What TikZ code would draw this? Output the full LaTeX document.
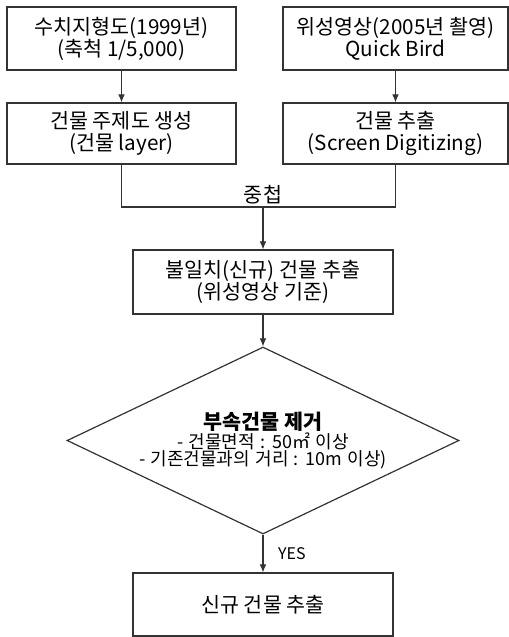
\documentclass[tikz,border=0pt]{standalone}
\usepackage{fontspec}
\setmainfont{Noto Sans CJK KR}
\usetikzlibrary{shapes.geometric,arrows.meta}
\begin{document}
\begin{tikzpicture}[x=0.75pt,y=-0.75pt,
  box/.style={draw=black!80,line width=0.9pt,fill=white,inner sep=0pt,align=center,
    font=\fontsize{15.5}{16.5}\selectfont},
  link/.style={draw=black!80,line width=0.8pt},
  arr/.style={link,-{Latex[length=6pt,width=5pt]}},
  lbl/.style={font=\fontsize{15.5}{16.5}\selectfont,inner sep=0pt}]
\useasboundingbox (0,0) rectangle (509,637);
\node[box,minimum width=171.75pt,minimum height=47.25pt] (b1) at (121.5,38.5)
  {수치지형도(1999년)\\(축척 1/5,000)};
\node[box,minimum width=168.75pt,minimum height=47.25pt] (b2) at (395.5,38.5)
  {위성영상(2005년 촬영)\\Quick Bird};
\node[box,minimum width=171.75pt,minimum height=45.75pt] (b3) at (121.5,133.5)
  {건물 주제도 생성\\(건물 layer)};
\node[box,minimum width=168.75pt,minimum height=45.75pt] (b4) at (395.5,133.5)
  {건물 추출\\(Screen Digitizing)};
\node[box,minimum width=195pt,minimum height=48pt] (b5) at (263,282)
  {불일치(신규) 건물 추출\\(위성영상 기준)};
\node[box,shape=diamond,shape aspect=2.1,minimum width=294pt,minimum height=140.25pt,
  font=\fontsize{15.5}{13}\selectfont] (d) at (263,440.5)
  {\textbf{부속건물 제거}\\[0pt]
   {\fontsize{13.5}{12}\selectfont\spaceskip=0.3em - 건물면적 : 50㎡ 이상\hspace{1.6em}}\\
   {\fontsize{13.5}{12}\selectfont\spaceskip=0.3em - 기존건물과의 거리 : 10m 이상)}};
\node[box,minimum width=195pt,minimum height=47.25pt] (b6) at (263,604.5)
  {신규 건물 추출};
\coordinate (j) at (263,207);
\draw[arr] (b1) -- (b3);
\draw[arr] (b2) -- (b4);
\draw[link] (b3.south) |- (j) -| (b4.south);
\node[lbl] (ov) at (263,195) {중첩};
\draw[arr] (j) -- (b5);
\draw[arr] (b5) -- (d.north);
\draw[arr] (d.south) -- node[anchor=west,pos=0.5,xshift=11pt,inner sep=0pt,font=\fontsize{12}{12}\selectfont] (yes) {YES} (b6);
\end{tikzpicture}
\end{document}
